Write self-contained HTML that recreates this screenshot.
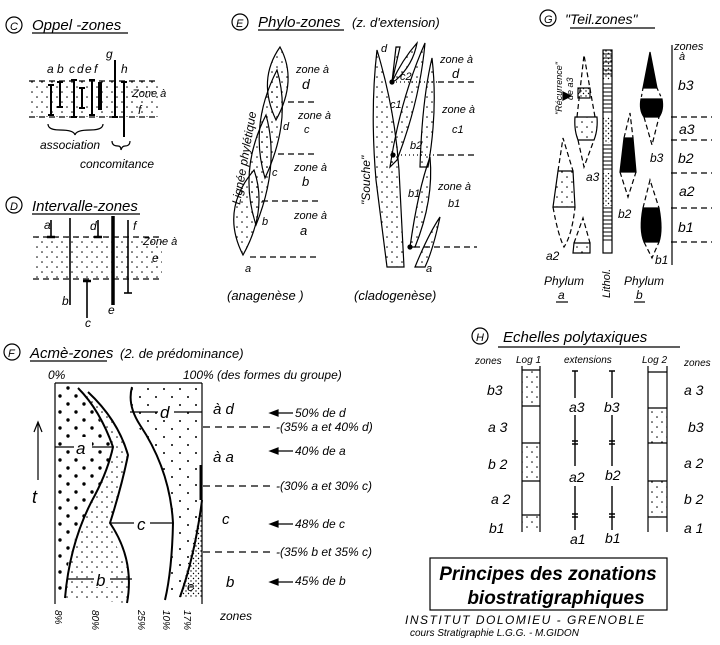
<!DOCTYPE html>
<html><head><meta charset="utf-8"><style>
html,body{margin:0;padding:0;background:#fff}
svg{display:block}
text{font-family:"Liberation Sans",sans-serif;font-style:italic;fill:#000}
</style></head><body>
<svg width="720" height="645" viewBox="0 0 720 645" xmlns="http://www.w3.org/2000/svg">
<defs>
<pattern id="ds" width="10" height="10" patternUnits="userSpaceOnUse"><circle cx="2" cy="2" r="0.8" fill="#000"/><circle cx="7" cy="7" r="0.8" fill="#000"/></pattern>
<pattern id="db" width="16" height="16" patternUnits="userSpaceOnUse"><circle cx="4" cy="4" r="1.7" fill="#000"/><circle cx="12" cy="12" r="1.7" fill="#000"/></pattern>
<pattern id="dsp" width="16" height="16" patternUnits="userSpaceOnUse"><circle cx="4" cy="5" r="1" fill="#000"/><circle cx="12" cy="13" r="1" fill="#000"/></pattern>
<pattern id="dd" width="5" height="5" patternUnits="userSpaceOnUse"><circle cx="1" cy="1" r="0.7" fill="#000"/><circle cx="3.5" cy="3.5" r="0.7" fill="#000"/></pattern>
</defs>
<g stroke="#000" fill="none" stroke-width="1.2">

<!-- C -->
<circle cx="14" cy="25" r="8"/>
<text x="10" y="30" font-size="11" stroke="none">C</text>
<text x="32" y="30" font-size="15" stroke="none">Oppel -zones</text>
<line x1="32" y1="33" x2="128" y2="33"/>
<rect x="29" y="81" width="129" height="36" fill="url(#ds)" stroke="none"/>
<line x1="29" y1="81" x2="158" y2="81" stroke-dasharray="6,4"/>
<line x1="29" y1="117" x2="158" y2="117" stroke-dasharray="6,4"/>
<g stroke-width="2">
<line x1="51" y1="85" x2="51" y2="115"/><line x1="48" y1="85" x2="54" y2="85"/><line x1="48" y1="115" x2="54" y2="115"/>
<line x1="60" y1="82" x2="60" y2="107"/><line x1="57" y1="82" x2="63" y2="82"/><line x1="57" y1="107" x2="63" y2="107"/>
<line x1="74" y1="80" x2="74" y2="117"/><line x1="71" y1="80" x2="77" y2="80"/><line x1="71" y1="117" x2="77" y2="117"/>
<line x1="82" y1="88" x2="82" y2="108"/><line x1="79" y1="88" x2="85" y2="88"/><line x1="79" y1="108" x2="85" y2="108"/>
<line x1="92" y1="80" x2="92" y2="115"/><line x1="89" y1="80" x2="95" y2="80"/><line x1="89" y1="115" x2="95" y2="115"/>
<line x1="100" y1="82" x2="100" y2="110" stroke-width="4"/>
<line x1="115" y1="60" x2="115" y2="117"/><line x1="112" y1="117" x2="118" y2="117"/>
<line x1="124" y1="82" x2="124" y2="137"/><line x1="121" y1="82" x2="127" y2="82"/>
</g>
<g stroke="none" font-size="12">
<text x="47" y="73">a</text><text x="57" y="73">b</text><text x="69" y="73">c</text><text x="77" y="73">d</text><text x="85" y="73">e</text><text x="94" y="73">f</text><text x="106" y="58">g</text><text x="121" y="73">h</text>
<text x="132" y="97" font-size="11">Zone à</text><text x="138" y="114">f</text>
<text x="40" y="149" font-size="12">association</text><text x="80" y="168" font-size="12">concomitance</text>
</g>
<path d="M48 124 Q48 130 60 130 Q74 130 75 135 Q76 130 90 130 Q103 130 103 124"/>
<path d="M112 141 Q112 146 118 146 Q121 146 121 150 Q122 146 125 146 Q130 146 130 141"/>

<!-- D -->
<circle cx="14" cy="205" r="8"/>
<text x="10" y="210" font-size="11" stroke="none">D</text>
<text x="32" y="211" font-size="15" stroke="none">Intervalle-zones</text>
<line x1="32" y1="214" x2="140" y2="214"/>
<rect x="33" y="237" width="129" height="42" fill="url(#ds)" stroke="none"/>
<line x1="33" y1="237" x2="162" y2="237" stroke-dasharray="6,4"/>
<line x1="33" y1="279" x2="162" y2="279" stroke-dasharray="6,4"/>
<g stroke-width="1.6">
<line x1="51" y1="220" x2="51" y2="237"/><line x1="47" y1="237" x2="55" y2="237" stroke-width="2.5"/>
<line x1="70" y1="218" x2="70" y2="305"/>
<line x1="87" y1="281" x2="87" y2="318"/><line x1="83" y1="281" x2="91" y2="281" stroke-width="2.5"/>
<line x1="98" y1="220" x2="98" y2="237"/><line x1="94" y1="237" x2="102" y2="237" stroke-width="2.5"/>
<line x1="113" y1="216" x2="113" y2="305" stroke-width="3.5"/>
<line x1="128" y1="220" x2="128" y2="293"/><line x1="124" y1="293" x2="132" y2="293"/>
</g>
<g stroke="none" font-size="12">
<text x="44" y="229">a</text><text x="62" y="305">b</text><text x="85" y="327">c</text><text x="90" y="230">d</text><text x="108" y="314">e</text><text x="133" y="230">f</text>
<text x="143" y="245" font-size="11">Zone à</text><text x="152" y="262">e</text>
</g>

<!-- E -->
<circle cx="240" cy="22" r="8"/>
<text x="236" y="27" font-size="11" stroke="none">E</text>
<text x="258" y="27" font-size="15" stroke="none">Phylo-zones</text>
<line x1="258" y1="30" x2="344" y2="30"/>
<text x="352" y="27" font-size="13" stroke="none">(z. d'extension)</text>
<path d="M243 255 Q268 210 254 170 Q220 210 243 255Z" fill="url(#ds)"/>
<path d="M256 225 Q280 165 266 115 Q238 170 256 225Z" fill="url(#ds)"/>
<path d="M265 178 Q292 120 277 70 Q249 125 265 178Z" fill="url(#ds)"/>
<path d="M276 120 Q298 80 280 47 Q257 80 276 120Z" fill="url(#ds)"/>
<g stroke-dasharray="6,4">
<line x1="250" y1="257" x2="318" y2="257"/><line x1="262" y1="201" x2="320" y2="201"/><line x1="278" y1="154" x2="317" y2="154"/><line x1="288" y1="102" x2="315" y2="102"/>
</g>
<g stroke="none" font-size="11">
<text x="245" y="272">a</text><text x="262" y="225">b</text><text x="272" y="176">c</text><text x="283" y="130">d</text>
<text x="296" y="73">zone à</text><text x="302" y="89" font-size="14">d</text>
<text x="298" y="119">zone à</text><text x="304" y="133">c</text>
<text x="294" y="171">zone à</text><text x="302" y="186" font-size="13">b</text>
<text x="294" y="219">zone à</text><text x="300" y="235" font-size="13">a</text>
<text transform="translate(240,205) rotate(-80)" font-size="12">Lignée phylétique</text>
<text x="227" y="300" font-size="13">(anagenèse )</text>
<text transform="translate(370,205) rotate(-90)" font-size="12">"Souche"</text>
<text x="354" y="300" font-size="13">(cladogenèse)</text>
</g>
<path d="M387 267 L376 180 Q370 110 377 50 Q395 110 399 170 L404 267Z" fill="url(#ds)"/>
<path d="M390 167 Q400 100 425 43 Q420 100 397 160Z" fill="url(#ds)"/>
<path d="M392 82 Q402 60 417 43 Q413 65 396 80Z" fill="url(#ds)"/>
<path d="M392 82 L396 47 L400 47Z" fill="url(#ds)"/>
<path d="M420 167 Q422 100 432 58 Q438 110 428 167Z" fill="url(#ds)"/>
<path d="M410 247 Q418 190 430 157 Q434 200 415 247Z" fill="url(#ds)"/>
<path d="M415 267 Q428 235 440 217 Q433 250 425 267Z" fill="url(#ds)"/>
<circle cx="392" cy="82" r="2" fill="#000"/><circle cx="393" cy="155" r="2" fill="#000"/><circle cx="410" cy="247" r="2" fill="#000"/>
<g stroke-dasharray="1,3"><line x1="392" y1="82" x2="438" y2="82"/><line x1="393" y1="155" x2="438" y2="155"/></g>
<g stroke-dasharray="6,4"><line x1="438" y1="82" x2="477" y2="82"/><line x1="438" y1="155" x2="477" y2="155"/><line x1="414" y1="247" x2="477" y2="247"/></g>
<g stroke="none" font-size="11">
<text x="381" y="52">d</text><text x="400" y="80">c2</text><text x="390" y="108">c1</text><text x="410" y="149">b2</text><text x="408" y="197">b1</text><text x="426" y="272">a</text>
<text x="440" y="63">zone à</text><text x="452" y="78" font-size="13">d</text>
<text x="442" y="113">zone à</text><text x="452" y="133">c1</text>
<text x="438" y="190">zone à</text><text x="448" y="207">b1</text>
</g>

<!-- G -->
<circle cx="548" cy="18" r="8"/>
<text x="544" y="23" font-size="11" stroke="none">G</text>
<text x="565" y="24" font-size="14" stroke="none">"Teil.zones"</text>
<line x1="570" y1="28" x2="655" y2="28"/>
<rect x="603" y="50" width="9" height="203" fill="#fff"/>
<rect x="603" y="50" width="9" height="30" fill="url(#dd)" stroke="none"/>
<g stroke-width="1" stroke="#000">
<path d="M603 54H612M603 58H612M603 62H612M603 66H612M603 70H612M603 74H612M603 84H612M603 88H612M603 92H612M603 96H612M603 100H612M603 104H612M603 108H612M603 112H612M603 145H612M603 149H612M603 153H612M603 157H612M603 161H612M603 165H612M603 169H612M603 208H612M603 212H612M603 216H612M603 220H612M603 224H612M603 228H612M603 232H612M603 236H612M603 240H612"/>
</g>
<rect x="603" y="117" width="9" height="26" fill="url(#dd)" stroke="none"/>
<rect x="603" y="173" width="9" height="33" fill="url(#dd)" stroke="none"/>
<line x1="672" y1="45" x2="672" y2="265"/>
<g stroke-dasharray="6,4"><line x1="671" y1="117" x2="712" y2="117"/><line x1="671" y1="140" x2="712" y2="140"/><line x1="671" y1="173" x2="712" y2="173"/><line x1="671" y1="208" x2="712" y2="208"/><line x1="671" y1="242" x2="712" y2="242"/></g>
<path d="M558 171 L573 171 L575 207 L553 207Z" fill="url(#ds)"/>
<path d="M558 171 L563 138 L573 171 M553 207 Q558 235 564 247 Q572 235 575 207" stroke-dasharray="5,3"/>
<path d="M575 117 L597 117 Q598 130 594 140 L578 140 Q574 130 575 117Z" fill="url(#ds)"/>
<path d="M577 117 L584 55 L595 117 M578 140 L584 167 L594 140" stroke-dasharray="5,3"/>
<rect x="578" y="88" width="12" height="10" fill="url(#dd)"/>
<path d="M574 243 L590 243 L590 253 L573 253Z" fill="url(#ds)"/>
<path d="M574 243 L583 218 L590 243" stroke-dasharray="5,3"/>
<path d="M563 92 L571 96 L563 100Z" fill="#000"/>
<path d="M650 52 L657 88 L643 88Z" fill="#000"/>
<path d="M641 99 L662 99 Q664 110 659 117 L644 117 Q639 110 641 99Z" fill="#000"/>
<path d="M643 88 L641 99 M657 88 L662 99" stroke-dasharray="3,3"/>
<path d="M644 117 L652 145 L659 117" stroke-dasharray="5,3"/>
<path d="M624 138 L633 138 L636 172 L620 172Z" fill="#000"/>
<path d="M624 138 L630 113 L633 138 M620 172 L628 197 L636 172" stroke-dasharray="5,3"/>
<path d="M643 208 L659 208 Q663 230 659 242 L644 242 Q639 230 643 208Z" fill="#000"/>
<path d="M643 208 L650 180 L659 208 M644 242 L652 258 L659 242" stroke-dasharray="5,3"/>
<g stroke="none" font-size="12">
<text x="674" y="50" font-size="11">zones</text><text x="679" y="60" font-size="11">à</text>
<text x="678" y="90" font-size="14">b3</text><text x="679" y="134" font-size="14">a3</text><text x="678" y="163" font-size="14">b2</text><text x="679" y="196" font-size="14">a2</text><text x="678" y="232" font-size="14">b1</text>
<text x="586" y="181">a3</text><text x="546" y="260">a2</text><text x="650" y="162">b3</text><text x="618" y="218">b2</text><text x="655" y="264">b1</text>
<text transform="translate(562,115) rotate(-90)" font-size="9">"Récurrence"</text>
<text transform="translate(573,100) rotate(-90)" font-size="9">de a3</text>
<text x="544" y="285">Phylum</text><text x="558" y="299">a</text>
<text x="624" y="285">Phylum</text><text x="636" y="299">b</text>
<text transform="translate(610,298) rotate(-90)" font-size="11">Lithol.</text>
</g>
<line x1="556" y1="302" x2="568" y2="302"/><line x1="634" y1="302" x2="645" y2="302"/>

<!-- F -->
<circle cx="12" cy="352" r="8"/>
<text x="8" y="357" font-size="11" stroke="none">F</text>
<text x="30" y="358" font-size="15" stroke="none">Acmè-zones</text>
<line x1="30" y1="361" x2="107" y2="361"/>
<text x="120" y="358" font-size="13" stroke="none">(2. de prédominance)</text>
<text x="48" y="379" font-size="12" stroke="none">0%</text>
<text x="183" y="379" font-size="12" stroke="none">100% (des formes du groupe)</text>
<path d="M55 383 L78 388 L95 410 L113 447 L104 475 L90 505 L77 530 L68 565 L65 598 L55 598Z" fill="url(#db)" stroke="none"/>
<path d="M78 388 L95 410 L113 447 L104 475 L90 505 L77 530 L68 565 L65 598 L127 603 L132 577 L118 550 L110 523 L120 495 L128 455 L110 415 L88 392Z" fill="url(#ds)" stroke="none"/>
<path d="M132 387 L130 412 L157 460 L170 500 L173 523 L170 560 L165 600 L180 597 L192 547 L202 500 L202 383Z" fill="url(#dsp)" stroke="none"/>
<path d="M202 500 L192 547 L180 597 L202 597Z" fill="url(#dd)" stroke="none"/>
<line x1="55" y1="383" x2="202" y2="383"/><line x1="55" y1="383" x2="55" y2="604"/><line x1="202" y1="383" x2="202" y2="604"/>
<g stroke-width="2" stroke-linejoin="round">
<path d="M78 388 Q100 410 113 447 Q108 470 95 495 Q70 540 65 598"/>
<path d="M88 392 Q118 420 128 455 Q122 485 110 523 Q135 560 127 603"/>
<path d="M132 387 Q127 405 140 425 Q170 470 173 523 Q172 570 165 600"/>
<path d="M202 500 Q195 555 180 597"/>
</g>
<line x1="201" y1="465" x2="201" y2="500" stroke-width="3"/>
<line x1="130" y1="412" x2="202" y2="412"/><line x1="55" y1="447" x2="113" y2="447"/><line x1="110" y1="523" x2="173" y2="523"/><line x1="67" y1="579" x2="132" y2="579"/>
<rect x="158" y="402" width="16" height="18" fill="#fff" stroke="none"/>
<rect x="74" y="437" width="18" height="18" fill="#fff" stroke="none"/>
<rect x="134" y="513" width="16" height="18" fill="#fff" stroke="none"/>
<rect x="94" y="569" width="16" height="18" fill="#fff" stroke="none"/>
<g stroke="none" font-size="17">
<text x="160" y="418">d</text><text x="76" y="454">a</text><text x="137" y="530">c</text><text x="96" y="586">b</text>
<text x="187" y="591" font-size="13">e</text>
</g>
<line x1="38" y1="480" x2="38" y2="424"/><path d="M34 432 L38 422 L42 432"/>
<text x="32" y="503" font-size="18" stroke="none">t</text>
<g stroke-dasharray="7,5"><line x1="203" y1="427" x2="275" y2="427"/><line x1="203" y1="486" x2="275" y2="486"/><line x1="203" y1="552" x2="275" y2="552"/></g>
<g stroke="none" font-size="12">
<text x="276" y="431">-(35% a et 40% d)</text>
<text x="276" y="490">-(30% a et 30% c)</text>
<text x="276" y="556">-(35% b et 35% c)</text>
<text x="213" y="414" font-size="15">à d</text><text x="213" y="462" font-size="15">à a</text><text x="222" y="524" font-size="15">c</text><text x="226" y="587" font-size="15">b</text>
<text x="220" y="620">zones</text>
<text x="295" y="417">50% de d</text><text x="295" y="455">40% de a</text><text x="295" y="528">48% de c</text><text x="295" y="585">45% de b</text>
<text transform="translate(55,610) rotate(90)" font-size="10">8%</text>
<text transform="translate(92,610) rotate(90)" font-size="10">80%</text>
<text transform="translate(138,610) rotate(90)" font-size="10">25%</text>
<text transform="translate(163,610) rotate(90)" font-size="10">10%</text>
<text transform="translate(184,610) rotate(90)" font-size="10">17%</text>
</g>
<g fill="#000"><path d="M270 413 L278 410 L278 416Z"/><path d="M270 451 L278 448 L278 454Z"/><path d="M270 524 L278 521 L278 527Z"/><path d="M270 582 L278 579 L278 585Z"/></g>
<line x1="275" y1="413" x2="293" y2="413"/><line x1="275" y1="451" x2="293" y2="451"/><line x1="275" y1="524" x2="293" y2="524"/><line x1="275" y1="582" x2="293" y2="582"/>

<!-- H -->
<circle cx="480" cy="336" r="8"/>
<text x="476" y="341" font-size="11" stroke="none">H</text>
<text x="503" y="342" font-size="15" stroke="none">Echelles  polytaxiques</text>
<line x1="498" y1="347" x2="680" y2="347"/>
<g stroke="none" font-size="10">
<text x="475" y="364">zones</text><text x="516" y="363">Log 1</text><text x="564" y="363">extensions</text><text x="642" y="363">Log 2</text><text x="684" y="366">zones</text>
</g>
<rect x="522" y="370" width="18" height="36" fill="url(#ds)" stroke="none"/>
<rect x="522" y="443" width="18" height="38" fill="url(#ds)" stroke="none"/>
<rect x="522" y="515" width="18" height="15" fill="url(#ds)" stroke="none"/>
<line x1="522" y1="366" x2="522" y2="532"/><line x1="540" y1="366" x2="540" y2="532"/>
<path d="M522 370H540M522 406H540M522 443H540M522 481H540M522 515H540"/>
<rect x="648" y="408" width="19" height="35" fill="url(#ds)" stroke="none"/>
<rect x="648" y="481" width="19" height="36" fill="url(#ds)" stroke="none"/>
<line x1="648" y1="366" x2="648" y2="532"/><line x1="667" y1="366" x2="667" y2="532"/>
<path d="M648 372H667M648 408H667M648 443H667M648 481H667M648 517H667"/>
<g stroke-width="1.4">
<path d="M575 371V398M575 415V466M575 486V530M572 371H578M572 441H578M572 444H578M572 514H578M572 517H578"/>
<path d="M612 371V398M612 415V466M612 486V530M609 371H615M609 441H615M609 444H615M609 514H615M609 517H615"/>
</g>
<g stroke="none" font-size="14">
<text x="487" y="395">b3</text><text x="488" y="432">a 3</text><text x="488" y="469">b 2</text><text x="491" y="504">a 2</text><text x="489" y="533">b1</text>
<text x="569" y="412">a3</text><text x="604" y="412">b3</text><text x="569" y="482">a2</text><text x="605" y="480">b2</text><text x="570" y="544">a1</text><text x="605" y="543">b1</text>
<text x="684" y="395">a 3</text><text x="688" y="432">b3</text><text x="684" y="468">a 2</text><text x="684" y="504">b 2</text><text x="684" y="533">a 1</text>
</g>

<!-- title box -->
<rect x="430" y="558" width="237" height="52" stroke-width="1.2"/>
<g stroke="none" font-weight="bold" font-size="19">
<text x="548" y="580" text-anchor="middle">Principes des zonations</text>
<text x="556" y="604" text-anchor="middle">biostratigraphiques</text>
</g>
<g stroke="none">
<text x="405" y="624" font-size="12" letter-spacing="1.5">INSTITUT  DOLOMIEU  - GRENOBLE</text>
<text x="410" y="636" font-size="10">cours Stratigraphie L.G.G.  - M.GIDON</text>
</g>
</g>
</svg>
</body></html>
